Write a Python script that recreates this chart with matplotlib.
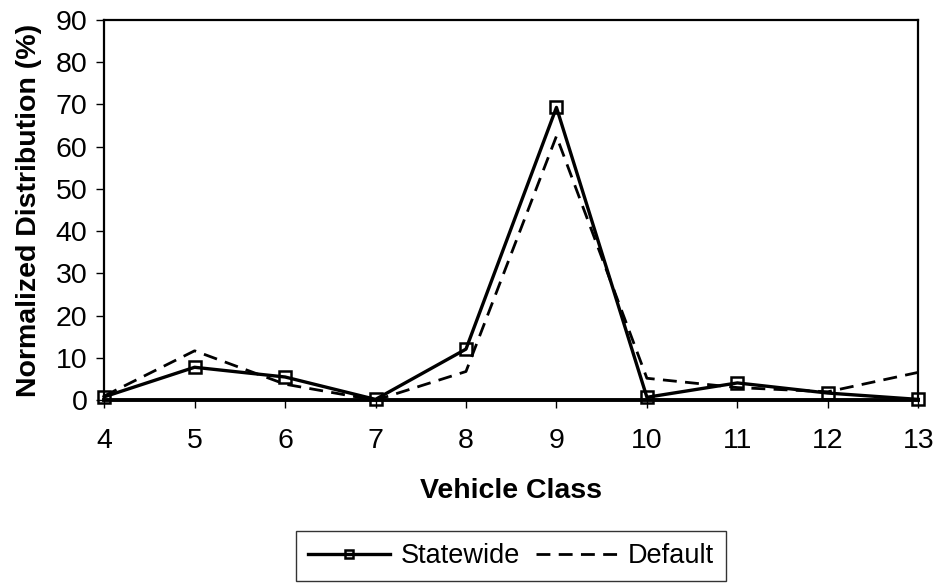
import matplotlib
matplotlib.use("Agg")
import matplotlib.pyplot as plt

plt.rcParams['font.family'] = ['Liberation Sans', 'DejaVu Sans']

# vehicle classes and normalized distributions (%)
vehicle_class = [4, 5, 6, 7, 8, 9, 10, 11, 12, 13]
statewide = [0.8, 7.8, 5.5, 0.2, 12.1, 69.3, 0.7, 4.1, 1.7, 0.2]
default = [1.0, 11.7, 3.8, 0.0, 6.8, 62.5, 5.2, 3.0, 2.0, 6.6]

fig = plt.figure(figsize=(9.38, 5.86), dpi=100)
ax = fig.add_axes([0.111, 0.317, 0.868, 0.649])

ax.plot(vehicle_class, statewide, color='black', lw=2.4, marker='s', markersize=9,
        markerfacecolor='none', markeredgewidth=1.8, label='Statewide', clip_on=False, zorder=3)
ax.plot(vehicle_class, default, color='black', lw=2.0, ls=(0, (5, 3)), label='Default',
        clip_on=False, zorder=2)

ax.set_xlim(4, 13)
ax.set_ylim(0, 90)
ax.set_xticks(vehicle_class)
ax.set_yticks(range(0, 91, 10))
ax.tick_params(labelsize=20.5, direction='out', length=6, width=1, pad=6)
ax.tick_params(axis='x', pad=14)

for side in ['left', 'bottom', 'top', 'right']:
    ax.spines[side].set_linewidth(1.6)
ax.spines['bottom'].set_linewidth(2.8)

ax.set_xlabel('Vehicle Class', fontsize=20.5, fontweight='bold', labelpad=17)
ax.set_ylabel('Normalized Distribution (%)', fontsize=20.5, fontweight='bold', labelpad=10)

leg = fig.legend(loc='center', bbox_to_anchor=(0.545, 0.051), ncol=2, fontsize=19.5,
                 frameon=True, fancybox=False, edgecolor='black', handlelength=3.0,
                 columnspacing=0.6, handletextpad=0.4, borderpad=0.45, markerscale=0.6)
leg.get_frame().set_linewidth(1.0)

fig.savefig('out.png', dpi=100)
